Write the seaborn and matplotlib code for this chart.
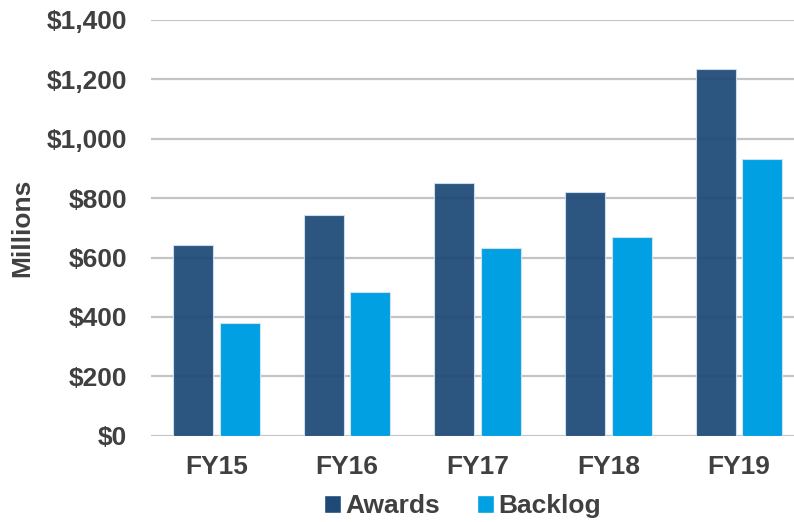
import matplotlib
matplotlib.use("Agg")
import matplotlib.pyplot as plt
import seaborn as sns
import pandas as pd
from matplotlib.ticker import FuncFormatter
from matplotlib.patches import Patch

# 数据（百万美元）
years = ["FY15", "FY16", "FY17", "FY18", "FY19"]
awards = [641, 743, 850, 821, 1235]
backlog = [380, 484, 633, 670, 931]
series_names = ["Awards", "Backlog"]
colors = ["#1F4A78", "#00A0E2"]
text_color = "#404040"

df = pd.DataFrame({
    "year": years * 2,
    "series": [series_names[0]] * len(years) + [series_names[1]] * len(years),
    "value": awards + backlog,
})

sns.set_theme(style="white")
plt.rcParams["font.family"] = ["Liberation Sans", "DejaVu Sans"]
plt.rcParams["font.weight"] = "bold"

fig = plt.figure(figsize=(7.94, 5.22), dpi=100)
ax = fig.add_axes([0.1902, 0.1653, 0.823, 0.7964])

sns.barplot(data=df, x="year", y="value", hue="series", palette=colors,
            saturation=1, width=0.714, gap=0.143, ax=ax, legend=False,
            edgecolor="#cfe0ef", linewidth=0.8, zorder=3)

# 深色柱略透明，可隐约看到网格线
for bar in ax.containers[0]:
    bar.set_alpha(0.94)

ax.set_ylim(0, 1400)
ax.set_xlim(-0.5, 4.5)
ax.set_yticks(range(0, 1401, 200))
ax.yaxis.set_major_formatter(FuncFormatter(lambda v, p: f"${v:,.0f}"))
ax.grid(True, axis="y", color="#c4c4c4", linewidth=1.6, zorder=0)
ax.set_axisbelow(True)
for s in ax.spines.values():
    s.set_visible(False)

ax.tick_params(axis="both", length=0, labelsize=19, labelcolor=text_color)
ax.tick_params(axis="y", pad=17)
ax.tick_params(axis="x", pad=14)
for lbl in ax.get_xticklabels() + ax.get_yticklabels():
    lbl.set_fontweight("bold")

ax.set_xlabel("")
ax.set_ylabel("Millions", fontsize=19, fontweight="bold", color=text_color)
ax.yaxis.set_label_coords(-0.179, 0.5)

handles = [Patch(facecolor=c, label=n) for c, n in zip(colors, series_names)]
leg = fig.legend(handles=handles, loc="center", bbox_to_anchor=(0.582, 0.03),
                 ncol=2, frameon=False, fontsize=19, handlelength=0.65,
                 handleheight=0.65, handletextpad=0.15, columnspacing=1.4,
                 borderaxespad=0, borderpad=0)
for t in leg.get_texts():
    t.set_color(text_color)
    t.set_fontweight("bold")

fig.savefig("out.png", dpi=100)
